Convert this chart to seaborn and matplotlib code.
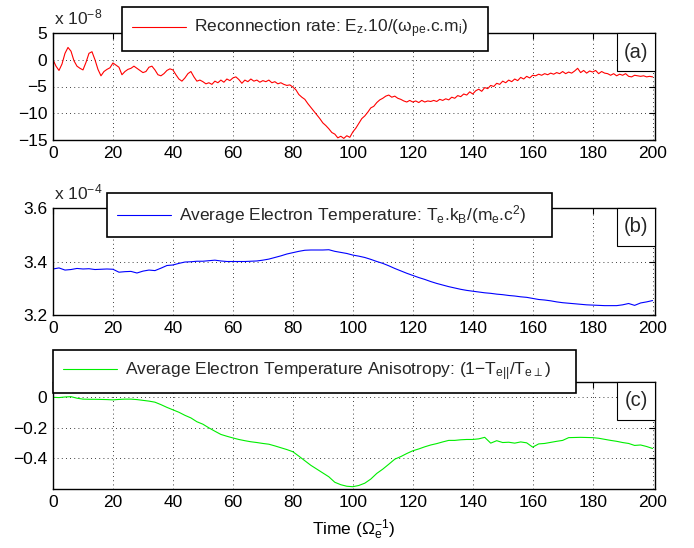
import numpy as np
import matplotlib
matplotlib.use("Agg")
import matplotlib.pyplot as plt
import seaborn as sns
from matplotlib.patches import Rectangle

# ---------------- data ----------------
t_rate = list(range(0, 201))
rate = [0.0, -1.2, -2.0, -0.8, 1.2, 2.3, 1.6, -0.2, -1.2, -1.6,
        -1.9, -0.5, 1.2, 1.5, 0.0, -1.8, -3.0, -2.2, -1.8, -1.5,
        -0.6, -1.0, -1.4, -2.8, -2.2, -1.8, -1.6, -1.2, -1.6, -2.0,
        -2.4, -2.2, -1.4, -1.2, -1.9, -2.8, -3.0, -2.6, -2.0, -1.7,
        -1.9, -2.8, -3.6, -4.0, -3.4, -2.6, -2.2, -3.2, -4.0, -3.8,
        -4.1, -4.5, -4.3, -4.6, -4.0, -4.3, -3.8, -4.2, -3.6, -3.9,
        -3.4, -3.2, -3.7, -4.4, -3.8, -4.1, -3.6, -4.0, -3.8, -4.2,
        -3.9, -4.1, -3.8, -4.3, -4.1, -4.5, -4.3, -4.6, -4.8, -4.7,
        -5.1, -5.6, -6.5, -7.0, -7.4, -8.2, -8.9, -9.6, -10.3, -11.0,
        -11.8, -12.3, -12.9, -13.6, -13.9, -14.6, -14.3, -14.7, -14.2, -14.5,
        -13.5, -12.8, -11.9, -11.0, -10.5, -9.8, -9.0, -8.7, -8.0, -7.5,
        -7.2, -6.8, -6.6, -7.0, -6.8, -7.2, -7.4, -7.7, -7.9, -7.6,
        -7.9, -7.7, -8.0, -7.6, -7.9, -7.7, -7.8, -7.6, -7.8, -7.4,
        -7.6, -7.3, -7.5, -7.0, -7.2, -6.7, -6.9, -6.4, -6.6, -6.0,
        -6.4, -5.8, -5.5, -5.9, -5.2, -5.4, -4.8, -5.0, -4.4, -4.6,
        -4.0, -4.3, -3.8, -4.1, -3.6, -3.9, -3.3, -3.6, -3.1, -3.4,
        -2.9, -3.0, -2.7, -2.9, -2.6, -2.8, -2.5, -2.7, -2.4, -2.6,
        -2.2, -2.6, -2.3, -2.5, -2.1, -1.6, -2.4, -2.0, -2.5, -2.1,
        -2.3, -2.0, -2.6, -2.2, -2.5, -2.6, -2.9, -2.6, -3.0, -2.7,
        -2.9, -2.6, -3.1, -3.2, -2.9, -3.0, -3.1, -3.0, -3.2, -3.1,
        -3.2]

t_slow = list(range(0, 201, 2))
temp = [3.372, 3.376, 3.368, 3.370, 3.374, 3.372, 3.373, 3.370, 3.371, 3.372,
        3.371, 3.360, 3.362, 3.363, 3.357, 3.364, 3.368, 3.366, 3.375, 3.385,
        3.387, 3.393, 3.398, 3.399, 3.401, 3.401, 3.403, 3.405, 3.402, 3.400,
        3.400, 3.400, 3.400, 3.401, 3.402, 3.405, 3.409, 3.415, 3.421, 3.428,
        3.433, 3.438, 3.442, 3.443, 3.443, 3.443, 3.444, 3.438, 3.434, 3.430,
        3.424, 3.420, 3.415, 3.408, 3.400, 3.393, 3.384, 3.374, 3.365, 3.356,
        3.348, 3.340, 3.333, 3.325, 3.318, 3.312, 3.306, 3.301, 3.296, 3.292,
        3.289, 3.286, 3.283, 3.281, 3.278, 3.276, 3.273, 3.271, 3.268, 3.266,
        3.262, 3.258, 3.256, 3.253, 3.249, 3.246, 3.244, 3.242, 3.240, 3.238,
        3.237, 3.236, 3.235, 3.235, 3.235, 3.238, 3.243, 3.236, 3.245, 3.249,
        3.254]

aniso = [0.000, -0.002, 0.002, 0.004, -0.006, -0.012, -0.013, -0.013, -0.014, -0.015,
         -0.017, -0.014, -0.012, -0.012, -0.015, -0.020, -0.025, -0.032, -0.048, -0.066,
         -0.082, -0.098, -0.118, -0.135, -0.160, -0.176, -0.200, -0.222, -0.243, -0.255,
         -0.266, -0.276, -0.284, -0.291, -0.296, -0.302, -0.307, -0.318, -0.330, -0.342,
         -0.356, -0.385, -0.415, -0.445, -0.470, -0.495, -0.520, -0.556, -0.572, -0.582,
         -0.585, -0.577, -0.562, -0.535, -0.498, -0.470, -0.438, -0.405, -0.388, -0.368,
         -0.350, -0.338, -0.324, -0.312, -0.303, -0.292, -0.282, -0.282, -0.278, -0.276,
         -0.276, -0.272, -0.262, -0.300, -0.284, -0.296, -0.294, -0.300, -0.292, -0.298,
         -0.326, -0.305, -0.302, -0.295, -0.288, -0.282, -0.264, -0.263, -0.262, -0.263,
         -0.264, -0.268, -0.275, -0.282, -0.288, -0.296, -0.302, -0.315, -0.312, -0.322,
         -0.335]

xticks = [0, 20, 40, 60, 80, 100, 120, 140, 160, 180, 200]
label_a = r'Reconnection rate: E$_\mathregular{z}$.10/($\mathregular{\omega_{pe}}$.c.m$_\mathregular{i}$)'
label_b = r'Average Electron Temperature: T$_\mathregular{e}$.k$_\mathregular{B}$/(m$_\mathregular{e}$.c$^\mathregular{2}$)'
label_c = r'Average Electron Temperature Anisotropy: (1$-$T$_\mathregular{e||}$/T$_\mathregular{e\perp}$)'

# ---------------- style ----------------
sns.set_theme(style="white")
plt.rcParams['font.family'] = ['Liberation Sans', 'DejaVu Sans']
plt.rcParams['mathtext.fontset'] = 'custom'
plt.rcParams['mathtext.rm'] = 'Liberation Sans'
plt.rcParams['mathtext.it'] = 'Liberation Sans'
plt.rcParams['mathtext.bf'] = 'Liberation Sans:bold'
plt.rcParams['axes.unicode_minus'] = True

FS = 12.5
fig = plt.figure(figsize=(6.94, 5.48), dpi=100)
W, H = 694, 548
left, right = 53, 655

def make_ax(top, bottom):
    return fig.add_axes([left / W, 1 - bottom / H, (right - left) / W, (bottom - top) / H])

axes = [make_ax(33, 140), make_ax(208, 315), make_ax(382, 489)]

series = [(t_rate, rate, 'red', label_a), (t_slow, temp, 'blue', label_b), (t_slow, aniso, '#00ee00', label_c)]
ylims = [(-15, 5), (3.2, 3.6), (-0.6, 0.1)]
yticks = [[-15, -10, -5, 0, 5], [3.2, 3.4, 3.6], [-0.4, -0.2, 0]]
yfmt = [lambda v: f"{v:g}".replace('-', '\u2212'), lambda v: f"{v:.1f}", lambda v: ("0" if v == 0 else f"{v:.1f}".replace('-', '\u2212'))]
legend_boxes = [(122, 488, 8, 50), (107, 552, 192, 238), (53, 576, 351, 392)]
tags = ['(a)', '(b)', '(c)']
exps = [r'x 10$^{\mathregular{-8}}$', r'x 10$^{\mathregular{-4}}$', None]

for i, ax in enumerate(axes):
    x, y, c, lab = series[i]
    sns.lineplot(x=x, y=y, ax=ax, color=c, linewidth=0.8, label=lab)
    ax.set_xlim(0, 200.8)
    ax.set_ylim(*ylims[i])
    ax.set_xticks(xticks)
    ax.set_yticks(yticks[i])
    ax.set_yticklabels([yfmt[i](v) for v in yticks[i]])
    ax.set_xticklabels([str(v) for v in xticks])
    ax.tick_params(direction='in', length=4, width=0.8, top=True, right=True,
                   labelsize=FS, colors='black', pad=4)
    ax.grid(True, linestyle=(0, (1, 4)), color='black', linewidth=0.6)
    for s in ax.spines.values():
        s.set_color('black')
        s.set_linewidth(1.0)
    ax.set_xlabel('')
    ax.set_ylabel('')
    # legend
    x0, x1, y0, y1 = legend_boxes[i]
    leg = ax.legend(loc='center', bbox_to_anchor=(x0 / W, 1 - y1 / H, (x1 - x0) / W, (y1 - y0) / H),
                    bbox_transform=fig.transFigure, mode='expand', borderaxespad=0,
                    fontsize=FS, frameon=True, fancybox=False, framealpha=1,
                    edgecolor='black', borderpad=0.6, handlelength=3.1, handletextpad=0.45)
    leg.get_frame().set_linewidth(1.2)
    leg.set_zorder(10)
    # panel tag box
    bw, bh = 38 / (right - left), 38 / 107
    ax.add_patch(Rectangle((1 - bw, 1 - bh), bw, bh, transform=ax.transAxes,
                           facecolor='white', edgecolor='black', linewidth=0.8, zorder=5, clip_on=False))
    ax.text(1 - bw / 2, 1 - bh / 2, tags[i], transform=ax.transAxes, ha='center', va='center',
            fontsize=FS + 2, zorder=6)
    if exps[i]:
        ax.annotate(exps[i], xy=(0, 1), xycoords='axes fraction', xytext=(1, 6),
                    textcoords='offset points', ha='left', va='baseline', fontsize=FS)

axes[2].set_xlabel(r'Time ($\Omega_\mathregular{e}^\mathregular{-1}$)', fontsize=FS, color='black', labelpad=6)

fig.savefig('out.png', dpi=100, facecolor='white')
